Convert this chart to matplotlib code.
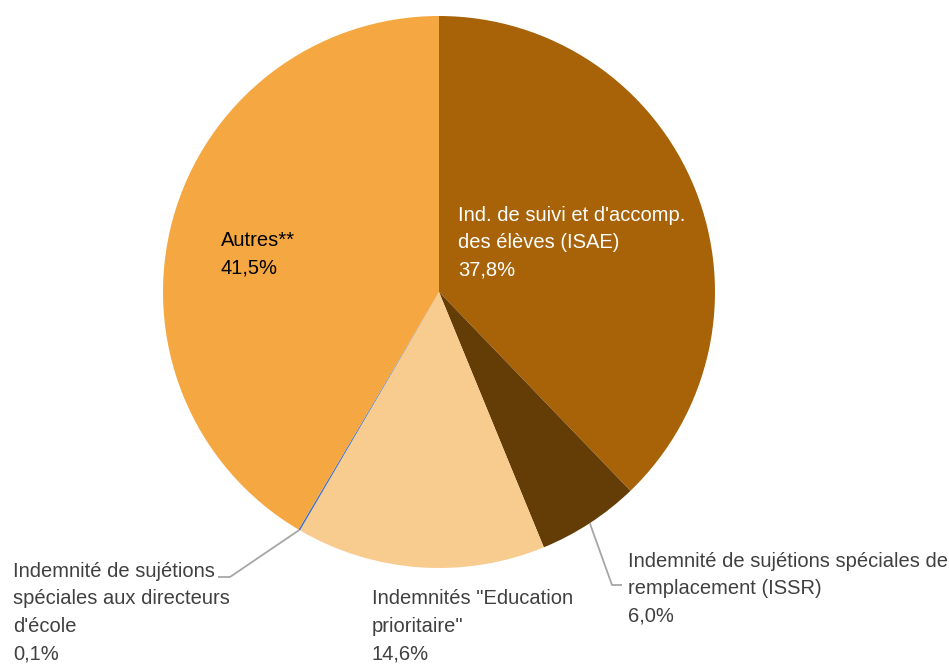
import numpy as np
import matplotlib
matplotlib.use('Agg')
import matplotlib.pyplot as plt

#%% Données

categories = ["Ind. de suivi et d'accomp.\ndes élèves (ISAE)",
              "Indemnité de sujétions spéciales de\nremplacement (ISSR)",
              'Indemnités "Education\nprioritaire"',
              "Indemnité de sujétions\nspéciales aux directeurs\nd'école",
              "Autres**"]
valeurs = [37.8, 6.0, 14.6, 0.1, 41.5]
couleurs = ['#A86308', '#643C05', '#F8CB8F', '#4472C4', '#F5A742']

#%% Figure (coordonnées en pixels, y vers le haut)

plt.rcParams['font.family'] = ['Liberation Sans', 'DejaVu Sans']

W, H = 949, 664
fig = plt.figure(figsize=(W/100, H/100), dpi=100)
ax = fig.add_axes([0, 0, 1, 1])

cx, cy, R = 439, H - 292, 276
wedges, _ = ax.pie(valeurs, colors=couleurs, startangle=90, counterclock=False,
                   center=(cx, cy), radius=R, frame=True,
                   wedgeprops=dict(linewidth=0))
ax.set_xlim(0, W)
ax.set_ylim(0, H)
ax.axis('off')

fs = 14.5
pas = 27.5

def etiquette(i, x, y1, couleur):
    lignes = categories[i].split('\n') + [('%.1f%%' % valeurs[i]).replace('.', ',')]
    for k, l in enumerate(lignes):
        ax.text(x, H - (y1 + k*pas), l, color=couleur, fontsize=fs,
                va='baseline', ha='left')

# étiquettes internes
etiquette(0, 458, 221, 'white')
etiquette(4, 221, 246, 'black')

# étiquettes externes
gris = '#404040'
etiquette(1, 628, 567, gris)
etiquette(2, 372, 604.5, gris)
etiquette(3, 13, 577, gris)

# lignes de rappel
def rappel(w, coude, fin):
    a = np.deg2rad((w.theta1 + w.theta2) / 2)
    x0, y0 = cx + R*np.cos(a), cy + R*np.sin(a)
    ax.plot([x0, coude[0], fin[0]], [y0, H - coude[1], H - fin[1]],
            color='#A6A6A6', linewidth=1.3, solid_capstyle='butt')

rappel(wedges[1], (612, 585), (622, 585))
rappel(wedges[3], (230, 577), (218, 577))

fig.savefig('out.png', dpi=100)
